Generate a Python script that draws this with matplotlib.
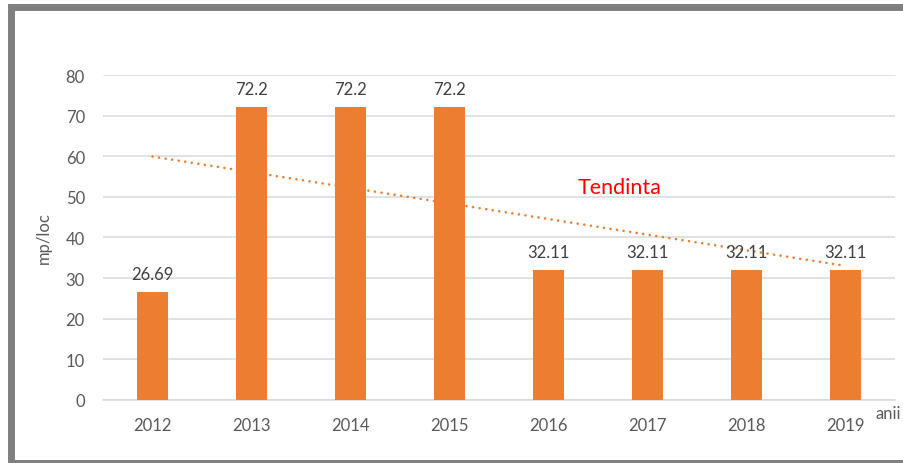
import numpy as np
import matplotlib
matplotlib.use("Agg")
import matplotlib.pyplot as plt
from matplotlib.patches import Rectangle

ani = ["2012", "2013", "2014", "2015", "2016", "2017", "2018", "2019"]
valori = [26.69, 72.2, 72.2, 72.2, 32.11, 32.11, 32.11, 32.11]
etichete = ["26.69", "72.2", "72.2", "72.2", "32.11", "32.11", "32.11", "32.11"]
yticks = [0, 10, 20, 30, 40, 50, 60, 70, 80]

plt.rcParams['font.family'] = ['Lato', 'DejaVu Sans']

fig = plt.figure(figsize=(9.04, 4.64), dpi=100)
ax = fig.add_axes([0.1139, 0.1358, 0.8761, 0.7004])

x = np.arange(len(ani))
ax.bar(x, valori, width=0.32, color='#ED7D31', zorder=3)

# linia de tendinta (regresie liniara)
coef = np.polyfit(x, valori, 1)
ax.plot(x, np.polyval(coef, x), color='#ED7D31', lw=1.9,
        linestyle=(0, (0.01, 2.5)), dash_capstyle='round', zorder=4)

for xi, v, t in zip(x, valori, etichete):
    ax.annotate(t, (xi, v), xytext=(0, 7), textcoords='offset points',
                ha='center', va='bottom', fontsize=12, color='#404040', zorder=5)

ax.set_xlim(-0.5, len(ani) - 0.5)
ax.set_ylim(0, 80)
ax.set_yticks(yticks)
ax.set_xticks(x)
ax.set_xticklabels(ani)
ax.yaxis.grid(True, color='#D9D9D9', lw=1.1, zorder=0)
ax.tick_params(length=0, labelsize=12, labelcolor='#595959')
ax.tick_params(axis='y', pad=13)
ax.tick_params(axis='x', pad=12.5)
for s in ['top', 'right', 'left']:
    ax.spines[s].set_visible(False)
ax.spines['bottom'].set_color('#D9D9D9')
ax.spines['bottom'].set_linewidth(1.1)

ax.set_ylabel('mp/loc', fontsize=12, color='#595959')
ax.yaxis.set_label_coords(-0.065, 0.5)

fig.text(876 / 904, 1 - 414 / 464, 'anii', fontsize=12, color='#595959',
         ha='left', va='center')
fig.text(620 / 904, 1 - 188 / 464, 'Tendinta', fontsize=15.5, color='#FF0000',
         ha='center', va='center')

# chenar gri
fig.patches.append(Rectangle((10.5 / 904, 1 - 463.5 / 464), (910 - 10.5) / 904,
                             (463.5 - 7.5) / 464, transform=fig.transFigure,
                             fill=False, edgecolor='#7F7F7F', lw=5.0, zorder=10))

fig.savefig('out.png', dpi=100)
